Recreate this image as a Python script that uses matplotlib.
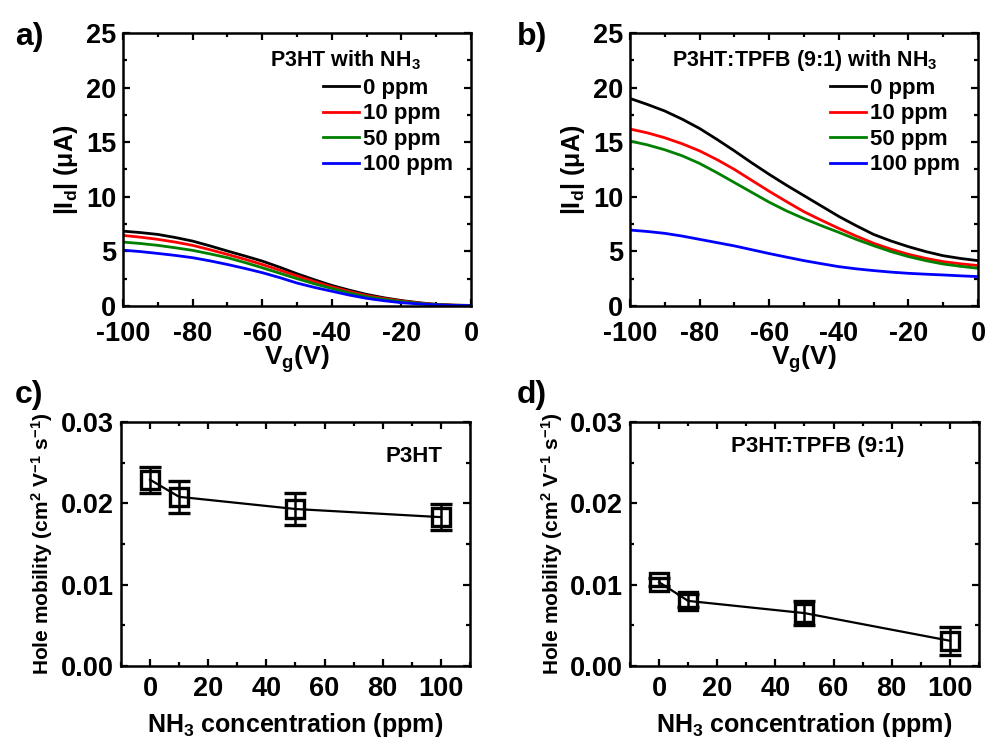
import matplotlib
matplotlib.use("Agg")
import matplotlib.pyplot as plt
from matplotlib.ticker import MultipleLocator, FormatStrFormatter

# transfer curves, |Id| in uA vs Vg (read every 5 V)
vg = [-100, -95, -90, -85, -80, -75, -70, -65, -60, -55, -50,
      -45, -40, -35, -30, -25, -20, -15, -10, -5, 0]
labels = ["0 ppm", "10 ppm", "50 ppm", "100 ppm"]
colors = ["black", "red", "green", "blue"]

id_p3ht = [
    [6.85, 6.72, 6.55, 6.27, 5.94, 5.5, 5.03, 4.58, 4.11, 3.55, 2.95,
     2.4, 1.88, 1.45, 1.06, 0.75, 0.5, 0.3, 0.15, 0.08, 0.05],
    [6.46, 6.3, 6.1, 5.85, 5.55, 5.15, 4.72, 4.28, 3.8, 3.28, 2.75,
     2.23, 1.75, 1.33, 0.95, 0.68, 0.45, 0.27, 0.13, 0.07, 0.04],
    [5.85, 5.72, 5.55, 5.33, 5.09, 4.77, 4.42, 3.98, 3.5, 3.0, 2.5,
     2.03, 1.6, 1.2, 0.85, 0.6, 0.4, 0.24, 0.12, 0.06, 0.03],
    [5.11, 4.98, 4.81, 4.63, 4.42, 4.13, 3.8, 3.44, 3.05, 2.6, 2.1,
     1.7, 1.35, 1.0, 0.7, 0.48, 0.3, 0.19, 0.1, 0.05, 0.03],
]
id_blend = [
    [19.0, 18.45, 17.85, 17.1, 16.25, 15.25, 14.2, 13.1, 12.05, 11.05, 10.1,
     9.15, 8.2, 7.35, 6.55, 5.95, 5.43, 4.98, 4.6, 4.35, 4.15],
    [16.2, 15.85, 15.4, 14.85, 14.2, 13.4, 12.5, 11.5, 10.5, 9.55, 8.63,
     7.85, 7.1, 6.4, 5.74, 5.2, 4.73, 4.36, 4.06, 3.86, 3.7],
    [15.1, 14.75, 14.3, 13.75, 13.05, 12.2, 11.3, 10.4, 9.5, 8.7, 8.0,
     7.35, 6.74, 6.1, 5.52, 4.98, 4.52, 4.15, 3.84, 3.63, 3.45],
    [6.95, 6.82, 6.65, 6.4, 6.1, 5.8, 5.5, 5.15, 4.8, 4.47, 4.15,
     3.87, 3.6, 3.4, 3.24, 3.1, 2.99, 2.91, 2.84, 2.76, 2.69],
]

# hole mobility vs NH3 concentration
conc = [0, 10, 50, 100]
mob_p3ht = [0.0229, 0.0208, 0.0193, 0.0183]
err_p3ht = [0.0016, 0.0020, 0.0020, 0.0016]
mob_blend = [0.0103, 0.0080, 0.0065, 0.0031]
err_blend = [0.0005, 0.0008, 0.0015, 0.0017]

plt.rcParams['font.family'] = 'Liberation Sans'
plt.rcParams['font.weight'] = 'bold'
plt.rcParams['axes.labelweight'] = 'bold'
plt.rcParams['axes.unicode_minus'] = False
plt.rcParams['mathtext.fontset'] = 'custom'
plt.rcParams['mathtext.rm'] = 'Liberation Sans:bold'
plt.rcParams['mathtext.it'] = 'Liberation Sans:bold'
plt.rcParams['mathtext.bf'] = 'Liberation Sans:bold'
plt.rcParams['mathtext.default'] = 'regular'

fig = plt.figure(figsize=(9.85, 7.38), dpi=100)
ax_a = fig.add_axes([0.1249, 0.5854, 0.3533, 0.370])
ax_b = fig.add_axes([0.6396, 0.5854, 0.3533, 0.370])
ax_c = fig.add_axes([0.1228, 0.0976, 0.3543, 0.3306])
ax_d = fig.add_axes([0.6396, 0.0976, 0.3543, 0.3306])


def style(ax):
    for s in ax.spines.values():
        s.set_linewidth(1.8)
    ax.tick_params(which='both', direction='in', top=True, right=True,
                   labelsize=19.5, width=1.6)
    ax.tick_params(axis='x', pad=11)
    ax.tick_params(axis='y', pad=5)
    ax.tick_params(which='major', length=5)
    ax.tick_params(which='minor', length=3)


for ax, data, title, tx in [(ax_a, id_p3ht, "P3HT with NH$_3$", 0.422),
                            (ax_b, id_blend, "P3HT:TPFB (9:1) with NH$_3$", 0.12)]:
    for ys, lab, c in zip(data, labels, colors):
        ax.plot(vg, ys, color=c, lw=2, label=lab)
    ax.set_xlim(-100, 0)
    ax.set_ylim(0, 25)
    ax.xaxis.set_major_locator(MultipleLocator(20))
    ax.xaxis.set_minor_locator(MultipleLocator(10))
    ax.yaxis.set_major_locator(MultipleLocator(5))
    ax.yaxis.set_minor_locator(MultipleLocator(2.5))
    style(ax)
    ax.set_xlabel("V$_g$(V)", fontsize=19, labelpad=-3)
    ax.set_ylabel("|I$_d$| (\u03bcA)", fontsize=18, labelpad=4)
    ax.text(tx, 0.90, title, transform=ax.transAxes, fontsize=15.5,
            ha='left', va='center')
    ax.legend(loc='upper left', bbox_to_anchor=(0.575, 0.835), frameon=False,
              fontsize=16, handlelength=1.6, handletextpad=0.2,
              labelspacing=0.2, borderpad=0, borderaxespad=0)

for ax, mob, err, title, tx, ty in [(ax_c, mob_p3ht, err_p3ht, "P3HT", 0.84, 0.857),
                                    (ax_d, mob_blend, err_blend, "P3HT:TPFB (9:1)", 0.538, 0.90)]:
    ax.errorbar(conc, mob, yerr=err, color='black', lw=1.6, marker='s',
                ms=13, mfc='none', mec='black', mew=2.4, capsize=8,
                capthick=1.8, elinewidth=1.8)
    ax.set_xlim(-10, 110)
    ax.set_ylim(0, 0.03)
    ax.xaxis.set_major_locator(MultipleLocator(20))
    ax.xaxis.set_minor_locator(MultipleLocator(10))
    ax.yaxis.set_major_locator(MultipleLocator(0.01))
    ax.yaxis.set_minor_locator(MultipleLocator(0.005))
    ax.yaxis.set_major_formatter(FormatStrFormatter('%.2f'))
    style(ax)
    ax.tick_params(axis='x', pad=7)
    ax.set_xlabel("NH$_3$ concentration (ppm)", fontsize=18, labelpad=7)
    ax.set_ylabel("Hole mobility (cm$^2$ V$^{-1}$ s$^{-1}$)", fontsize=15, labelpad=4)
    ax.text(tx, ty, title, transform=ax.transAxes, fontsize=16,
            ha='center', va='center')

for lab, x, y in [("a)", 0.015, 0.95), ("b)", 0.525, 0.95),
                  ("c)", 0.015, 0.465), ("d)", 0.525, 0.465)]:
    fig.text(x, y, lab, fontsize=23, ha='left', va='center')

fig.savefig("out.png", dpi=100)
